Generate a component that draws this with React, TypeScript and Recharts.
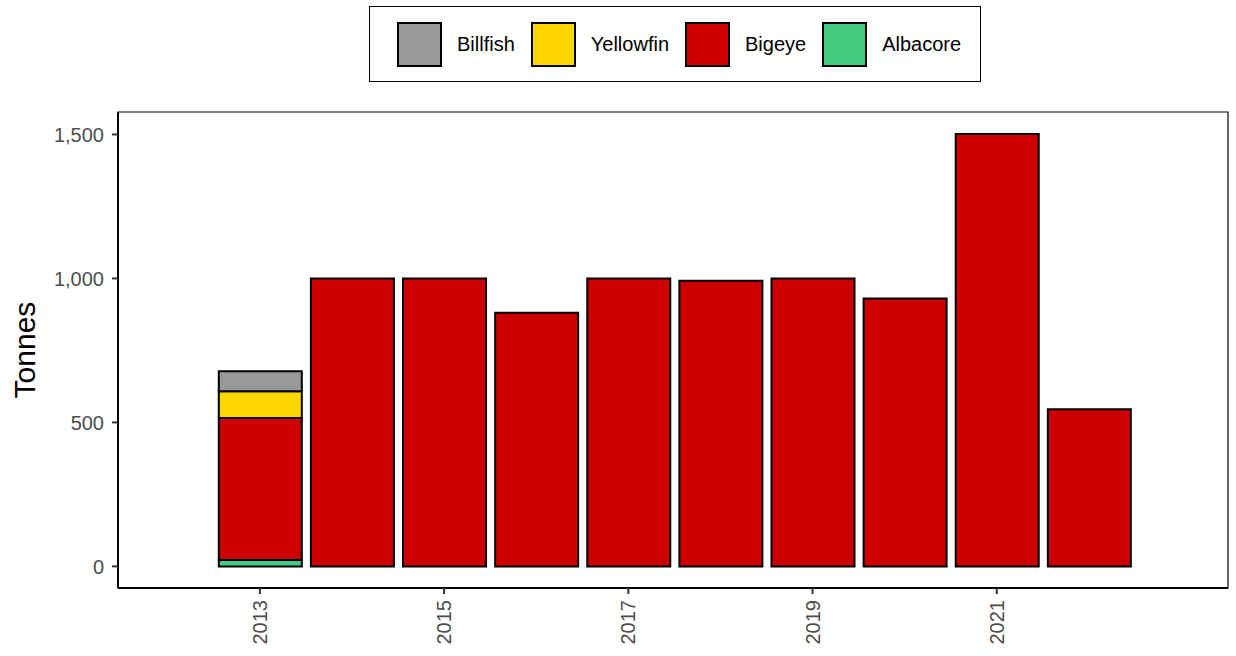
import React from 'react';
import { BarChart, Bar, XAxis, YAxis, ReferenceArea, Legend } from 'recharts';

const years = [2013, 2014, 2015, 2016, 2017, 2018, 2019, 2020, 2021, 2022];
const albacore = [22, 0, 0, 0, 0, 0, 0, 0, 0, 0];
const bigeye = [493, 1000, 1000, 881, 1000, 992, 1000, 930, 1502, 546];
const yellowfin = [93, 0, 0, 0, 0, 0, 0, 0, 0, 0];
const billfish = [70, 0, 0, 0, 0, 0, 0, 0, 0, 0];
const xTicks = [2013, 2015, 2017, 2019, 2021];
const yTicks = [0, 500, 1000, 1500];

const series = [
  { key: 'Albacore', values: albacore, color: '#43CD80' },
  { key: 'Bigeye', values: bigeye, color: '#CC0000' },
  { key: 'Yellowfin', values: yellowfin, color: '#FFD700' },
  { key: 'Billfish', values: billfish, color: '#999999' },
];
const legendOrder = ['Billfish', 'Yellowfin', 'Bigeye', 'Albacore'];

const data = years.map((y, i) => {
  const row: any = { year: y };
  series.forEach((s) => {
    row[s.key] = s.values[i] > 0 ? s.values[i] : null;
  });
  return row;
});

const X_DOMAIN: [number, number] = [2011.46, 2023.51];
const Y_DOMAIN: [number, number] = [-75, 1578];
const FONT = '"Liberation Sans", Arial, sans-serif';

const XTick = (props: any) => {
  const { x, y, payload } = props;
  return (
    <text
      x={x}
      y={y}
      transform={`rotate(-90, ${x}, ${y})`}
      textAnchor="end"
      dy="0.35em"
      fontSize={20}
      fill="#4d4d4d"
      fontFamily={FONT}
    >
      {payload.value}
    </text>
  );
};

const LegendBox = () => (
  <div
    style={{
      boxSizing: 'border-box',
      width: 612,
      height: 76,
      border: '1.5px solid #000',
      display: 'flex',
      alignItems: 'center',
      paddingLeft: 27,
      fontFamily: FONT,
      fontSize: 20,
      color: '#000',
      background: '#fff',
    }}
  >
    {legendOrder.map((k) => {
      const s = series.find((q) => q.key === k)!;
      return (
        <div key={k} style={{ display: 'flex', alignItems: 'center', marginRight: 16 }}>
          <div
            style={{
              boxSizing: 'border-box',
              width: 45,
              height: 45,
              background: s.color,
              border: '2px solid #000',
              marginRight: 15,
            }}
          />
          <span>{k}</span>
        </div>
      );
    })}
  </div>
);

export default function App() {
  return (
    <div style={{ position: 'absolute', left: 0, top: 0, width: 1236, height: 656, background: '#fff' }}>
      <BarChart
        width={1236}
        height={656}
        data={data}
        margin={{ top: 112, right: 8, bottom: 0, left: 0 }}
        barCategoryGap={0}
        barGap={0}
      >
        <ReferenceArea
          x1={X_DOMAIN[0]}
          x2={X_DOMAIN[1]}
          y1={Y_DOMAIN[0]}
          y2={Y_DOMAIN[1]}
          fill="none"
          stroke="#000"
          strokeWidth={1.2}
          ifOverflow="extendDomain"
        />
        <XAxis
          dataKey="year"
          type="number"
          domain={X_DOMAIN}
          ticks={xTicks}
          allowDataOverflow
          height={68}
          tick={<XTick />}
          tickSize={6}
          tickMargin={6}
          axisLine={{ stroke: '#000', strokeWidth: 2 }}
          tickLine={{ stroke: '#333', strokeWidth: 2 }}
        />
        <YAxis
          type="number"
          domain={Y_DOMAIN}
          ticks={yTicks}
          allowDataOverflow
          width={118}
          tickSize={6}
          tickMargin={8}
          tickFormatter={(v: number) => v.toLocaleString('en-US')}
          tick={{ fontSize: 20, fill: '#4d4d4d', fontFamily: FONT }}
          axisLine={{ stroke: '#000', strokeWidth: 2 }}
          tickLine={{ stroke: '#333', strokeWidth: 2 }}
          label={{
            value: 'Tonnes',
            angle: -90,
            position: 'insideLeft',
            offset: 24,
            style: { textAnchor: 'middle', fontSize: 30, fill: '#000', fontFamily: FONT },
          }}
        />
        {series.map((s) => (
          <Bar
            key={s.key}
            dataKey={s.key}
            stackId="a"
            fill={s.color}
            stroke="#000"
            strokeWidth={2}
            barSize={83}
            isAnimationActive={false}
          />
        ))}
        <Legend
          layout="vertical"
          align="center"
          verticalAlign="middle"
          content={() => <LegendBox />}
          wrapperStyle={{ position: 'absolute', top: 6, left: 369, width: 612, height: 76 }}
        />
      </BarChart>
    </div>
  );
}
